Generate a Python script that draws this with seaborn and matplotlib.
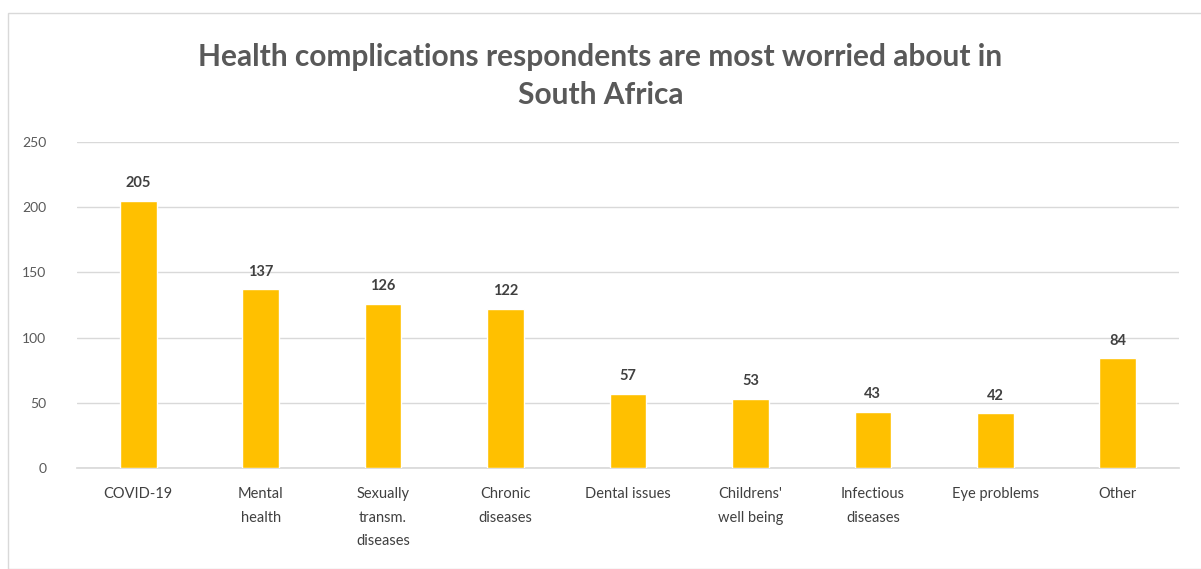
import matplotlib
matplotlib.use("Agg")
import matplotlib.pyplot as plt
import seaborn as sns
import pandas as pd
from matplotlib.patches import Rectangle

categories = ["COVID-19", "Mental\nhealth", "Sexually\ntransm.\ndiseases", "Chronic\ndiseases",
              "Dental issues", "Childrens'\nwell being", "Infectious\ndiseases", "Eye problems", "Other"]
values = [205, 137, 126, 122, 57, 53, 43, 42, 84]
yticks = [0, 50, 100, 150, 200, 250]

sns.set_theme(style="white")
plt.rcParams['font.family'] = ['Lato', 'DejaVu Sans']

df = pd.DataFrame({"cat": categories, "val": values})

fig = plt.figure(figsize=(12.01, 5.69), dpi=100)
ax = fig.add_axes([77/1201, 1 - 468/569, (1179-77)/1201, (468-142)/569])

sns.barplot(data=df, x="cat", y="val", color="#FFC000", width=0.3, saturation=1, ax=ax, zorder=3)

ax.set_ylim(0, 250)
ax.set_yticks(yticks)
ax.set_yticklabels([str(t) for t in yticks], color="#595959", fontsize=10)
ax.yaxis.grid(True, color="#D9D9D9", linewidth=1, zorder=0)
ax.set_xlabel("")
ax.set_ylabel("")
for s in ["top", "right", "left"]:
    ax.spines[s].set_visible(False)
ax.spines["bottom"].set_color("#D9D9D9")
ax.tick_params(axis="x", length=0, pad=14, colors="#404040", labelsize=10.5)
ax.tick_params(axis="y", length=0, pad=22)
for lbl in ax.get_xticklabels():
    lbl.set_verticalalignment("top")
    lbl.set_linespacing(1.85)

for i, v in enumerate(values):
    ax.text(i, v + 8, str(v), ha="center", va="bottom", fontsize=10.5, fontweight="bold", color="#404040")

fig.text(0.5, 1 - 76/569, "Health complications respondents are most worried about in\nSouth Africa",
         ha="center", va="center", fontsize=21.5, fontweight="bold", color="#595959", linespacing=1.45)

fig.patches.append(Rectangle((8/1201, 0), 1.2, 1 - 13/569, transform=fig.transFigure,
                             fill=False, edgecolor="#D9D9D9", linewidth=1))

fig.savefig("out.png", dpi=100)
